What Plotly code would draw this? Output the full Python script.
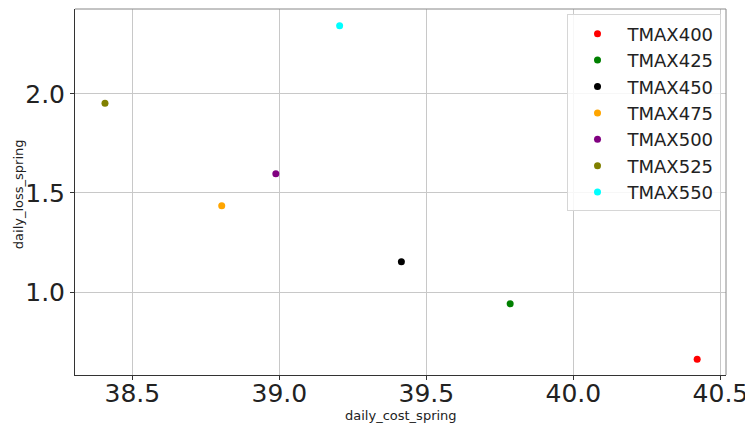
import plotly.graph_objects as go

# Spring trade-off between daily cost and daily loss for each TMAX setting
labels = ["TMAX400", "TMAX425", "TMAX450", "TMAX475", "TMAX500", "TMAX525", "TMAX550"]
daily_cost_spring = [40.421, 39.785, 39.415, 38.804, 38.988, 38.407, 39.205]
daily_loss_spring = [0.660, 0.941, 1.153, 1.436, 1.597, 1.953, 2.345]
colors = ["red", "green", "black", "orange", "purple", "olive", "cyan"]

x_ticks = [38.5, 39.0, 39.5, 40.0, 40.5]
y_ticks = [1.0, 1.5, 2.0]

fig = go.Figure()
for name, xv, yv, c in zip(labels, daily_cost_spring, daily_loss_spring, colors):
    fig.add_trace(go.Scatter(
        x=[xv], y=[yv], mode="markers", name=name,
        marker=dict(color=c, size=7, line=dict(width=0)),
    ))

font_family = "DejaVu Sans"
fig.update_layout(
    width=745, height=428,
    margin=dict(l=75, r=19, t=9, b=53),
    paper_bgcolor="white", plot_bgcolor="white",
    font=dict(family=font_family, color="#222"),
    showlegend=True,
    legend=dict(
        x=0.755, y=0.985, xanchor="left", yanchor="top",
        bgcolor="rgba(255,255,255,0.85)", bordercolor="#d6d6d6", borderwidth=1,
        font=dict(size=18, family=font_family, color="#222"),
        itemwidth=50,
    ),
    xaxis=dict(
        range=[38.305, 40.519], tickvals=x_ticks,
        ticktext=[f"{v:.1f}" for v in x_ticks],
        tickfont=dict(size=25), ticks="outside", ticklen=4, tickcolor="#333",
        ticklabeloverflow="allow", ticklabelstandoff=-8, automargin=False,
        showgrid=True, gridcolor="#c8c8c8", gridwidth=1,
        showline=True, linecolor="#333", linewidth=1, zeroline=False,
    ),
    yaxis=dict(
        range=[0.581, 2.429], tickvals=y_ticks,
        ticktext=[f"{v:.1f}" for v in y_ticks],
        tickfont=dict(size=25), ticks="outside", ticklen=4, tickcolor="#333",
        automargin=False,
        showgrid=True, gridcolor="#c8c8c8", gridwidth=1,
        showline=True, linecolor="#333", linewidth=1, zeroline=False,
    ),
)

# axis titles
fig.add_annotation(text="daily_cost_spring", xref="paper", yref="paper",
                   x=0.5, y=-0.112, xanchor="center", yanchor="middle",
                   showarrow=False, font=dict(size=13, color="#222"))
fig.add_annotation(text="daily_loss_spring", xref="paper", yref="paper",
                   x=-0.087, y=0.495, xanchor="center", yanchor="middle",
                   textangle=-90, showarrow=False, font=dict(size=13, color="#222"))

# light frame on the top and right edges of the plotting area
fig.add_shape(type="line", xref="paper", yref="paper", x0=0, x1=1, y0=1, y1=1,
              line=dict(color="#888", width=1))
fig.add_shape(type="line", xref="paper", yref="paper", x0=1, x1=1, y0=0, y1=1,
              line=dict(color="#888", width=1))

fig.write_html("out.html")
